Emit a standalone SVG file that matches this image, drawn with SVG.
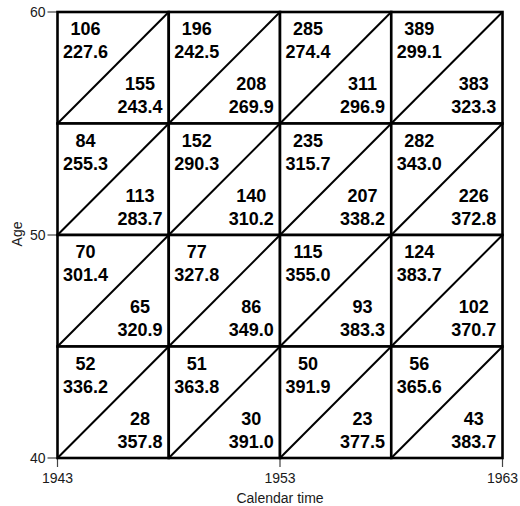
<svg xmlns="http://www.w3.org/2000/svg" width="520" height="506" viewBox="0 0 520 506">
<style>
.cell{fill:#fff;stroke:#000;stroke-width:2.6}
.diag{stroke:#000;stroke-width:2;fill:none}
.v{font-family:"Liberation Sans",Arial,sans-serif;font-weight:bold;font-size:18px;text-anchor:middle;fill:#000}
.ax{font-family:"Liberation Sans",Arial,sans-serif;font-size:14px;fill:#1a1a1a}
.tick{stroke:#444;stroke-width:1.2}
</style>
<defs>
<g id="tri">
<rect class="cell" x="0" y="0" width="111.25" height="111.5"/>
<line class="diag" x1="0" y1="111.5" x2="111.25" y2="0"/>
</g>
</defs>
<rect width="520" height="506" fill="#fff"/>
<g id="axes">
<line class="tick" x1="47.5" y1="12" x2="57.5" y2="12"/>
<line class="tick" x1="47.5" y1="235" x2="57.5" y2="235"/>
<line class="tick" x1="47.5" y1="458" x2="57.5" y2="458"/>
<line class="tick" x1="57.5" y1="458" x2="57.5" y2="467"/>
<line class="tick" x1="280" y1="458" x2="280" y2="467"/>
<line class="tick" x1="502.5" y1="458" x2="502.5" y2="467"/>
<text class="ax" x="45.5" y="17" text-anchor="end">60</text>
<text class="ax" x="45.5" y="240" text-anchor="end">50</text>
<text class="ax" x="45.5" y="463" text-anchor="end">40</text>
<text class="ax" x="57.5" y="483" text-anchor="middle">1943</text>
<text class="ax" x="280" y="483" text-anchor="middle">1953</text>
<text class="ax" x="502.5" y="483" text-anchor="middle">1963</text>
<text class="ax" x="280" y="502.5" text-anchor="middle">Calendar time</text>
<text class="ax" transform="translate(21.5,234) rotate(-90)" text-anchor="middle">Age</text>
</g>
<g id="connectors"></g>
<g id="cell-r0c0" transform="translate(57.5,12)"><use href="#tri"/><text class="v" x="28" y="23">106</text><text class="v" x="28" y="46">227.6</text><text class="v" x="82.5" y="78">155</text><text class="v" x="82.5" y="101">243.4</text></g>
<g id="cell-r0c1" transform="translate(168.75,12)"><use href="#tri"/><text class="v" x="28" y="23">196</text><text class="v" x="28" y="46">242.5</text><text class="v" x="82.5" y="78">208</text><text class="v" x="82.5" y="101">269.9</text></g>
<g id="cell-r0c2" transform="translate(280,12)"><use href="#tri"/><text class="v" x="28" y="23">285</text><text class="v" x="28" y="46">274.4</text><text class="v" x="82.5" y="78">311</text><text class="v" x="82.5" y="101">296.9</text></g>
<g id="cell-r0c3" transform="translate(391.25,12)"><use href="#tri"/><text class="v" x="28" y="23">389</text><text class="v" x="28" y="46">299.1</text><text class="v" x="82.5" y="78">383</text><text class="v" x="82.5" y="101">323.3</text></g>
<g id="cell-r1c0" transform="translate(57.5,123.5)"><use href="#tri"/><text class="v" x="28" y="23">84</text><text class="v" x="28" y="46">255.3</text><text class="v" x="82.5" y="78">113</text><text class="v" x="82.5" y="101">283.7</text></g>
<g id="cell-r1c1" transform="translate(168.75,123.5)"><use href="#tri"/><text class="v" x="28" y="23">152</text><text class="v" x="28" y="46">290.3</text><text class="v" x="82.5" y="78">140</text><text class="v" x="82.5" y="101">310.2</text></g>
<g id="cell-r1c2" transform="translate(280,123.5)"><use href="#tri"/><text class="v" x="28" y="23">235</text><text class="v" x="28" y="46">315.7</text><text class="v" x="82.5" y="78">207</text><text class="v" x="82.5" y="101">338.2</text></g>
<g id="cell-r1c3" transform="translate(391.25,123.5)"><use href="#tri"/><text class="v" x="28" y="23">282</text><text class="v" x="28" y="46">343.0</text><text class="v" x="82.5" y="78">226</text><text class="v" x="82.5" y="101">372.8</text></g>
<g id="cell-r2c0" transform="translate(57.5,235)"><use href="#tri"/><text class="v" x="28" y="23">70</text><text class="v" x="28" y="46">301.4</text><text class="v" x="82.5" y="78">65</text><text class="v" x="82.5" y="101">320.9</text></g>
<g id="cell-r2c1" transform="translate(168.75,235)"><use href="#tri"/><text class="v" x="28" y="23">77</text><text class="v" x="28" y="46">327.8</text><text class="v" x="82.5" y="78">86</text><text class="v" x="82.5" y="101">349.0</text></g>
<g id="cell-r2c2" transform="translate(280,235)"><use href="#tri"/><text class="v" x="28" y="23">115</text><text class="v" x="28" y="46">355.0</text><text class="v" x="82.5" y="78">93</text><text class="v" x="82.5" y="101">383.3</text></g>
<g id="cell-r2c3" transform="translate(391.25,235)"><use href="#tri"/><text class="v" x="28" y="23">124</text><text class="v" x="28" y="46">383.7</text><text class="v" x="82.5" y="78">102</text><text class="v" x="82.5" y="101">370.7</text></g>
<g id="cell-r3c0" transform="translate(57.5,346.5)"><use href="#tri"/><text class="v" x="28" y="23">52</text><text class="v" x="28" y="46">336.2</text><text class="v" x="82.5" y="78">28</text><text class="v" x="82.5" y="101">357.8</text></g>
<g id="cell-r3c1" transform="translate(168.75,346.5)"><use href="#tri"/><text class="v" x="28" y="23">51</text><text class="v" x="28" y="46">363.8</text><text class="v" x="82.5" y="78">30</text><text class="v" x="82.5" y="101">391.0</text></g>
<g id="cell-r3c2" transform="translate(280,346.5)"><use href="#tri"/><text class="v" x="28" y="23">50</text><text class="v" x="28" y="46">391.9</text><text class="v" x="82.5" y="78">23</text><text class="v" x="82.5" y="101">377.5</text></g>
<g id="cell-r3c3" transform="translate(391.25,346.5)"><use href="#tri"/><text class="v" x="28" y="23">56</text><text class="v" x="28" y="46">365.6</text><text class="v" x="82.5" y="78">43</text><text class="v" x="82.5" y="101">383.7</text></g>
</svg>
